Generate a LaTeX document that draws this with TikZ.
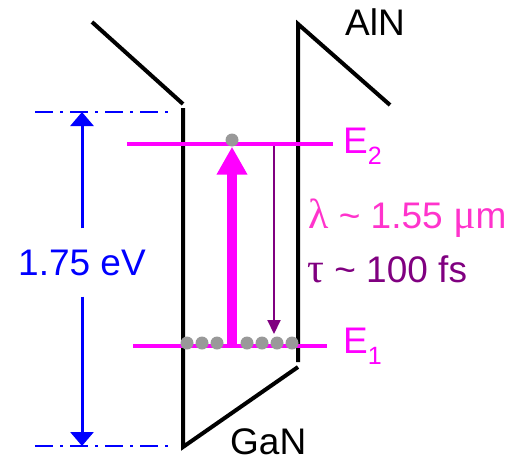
\documentclass[tikz,border=0pt]{standalone}
\usepackage{fontspec}
\setmainfont{Liberation Sans}
\newfontfamily\greekfont{Liberation Serif}
\usetikzlibrary{arrows.meta,positioning}
\definecolor{levelpink}{HTML}{FF00FF}
\definecolor{wavepink}{HTML}{FF33CC}
\definecolor{lifepurple}{HTML}{800080}
\definecolor{dotgray}{HTML}{999999}
\newcommand{\levelsub}[1]{\raisebox{-0.3em}{\fontsize{25}{25}\selectfont #1}}
\newcommand{\gk}[1]{{\greekfont\fontsize{42}{44}\selectfont #1}}

\begin{document}
\begin{tikzpicture}[x=1pt,y=-1pt,>=Stealth,
  band/.style={line width=4pt,black},
  level/.style={line width=4pt,levelpink},
  electron/.style={circle,fill=dotgray,inner sep=0pt,minimum size=13pt},
  dimline/.style={blue,line width=1.5pt,dash pattern=on 18pt off 7pt on 3pt off 7pt},
  lbl/.style={font=\fontsize{37}{44}\selectfont,inner sep=0pt,anchor=base west}]
\useasboundingbox (0,0) rectangle (525,461);
% band edges
\draw[band] (92,22) -- (183,104);
\draw[band] (183,108) -- (183,447) -- (298,367);
\draw[band] (298,362) -- (298,24) -- (390,105);
% subbands
\coordinate (e2l) at (127,144); \coordinate (e2r) at (333,144);
\coordinate (e1l) at (133,346); \coordinate (e1r) at (327,346);
\draw[level] (e2l) -- (e2r);
\draw[level] (e1l) -- (e1r);
\foreach \x [count=\i] in {187,202,217,247,262,277,292}
  \node[electron] (el\i) at (\x,343) {};
\node[electron] (eup) at (232,140) {};
% transitions
\coordinate (pumpfoot) at (232,346);
\draw[-{Triangle[width=29pt,length=28pt]},line width=10pt,levelpink] (pumpfoot) -- (eup.south);
\coordinate (relaxtop) at (274,146); \coordinate (relaxfoot) at (274,334);
\draw[-{Triangle[width=13pt,length=14pt]},line width=2pt,lifepurple] (relaxtop) -- (relaxfoot);
% gap energy
\coordinate (gaptopl) at (35,112); \coordinate (gaptopr) at (172,112);
\coordinate (gapbotl) at (35,446); \coordinate (gapbotr) at (172,446);
\draw[dimline] (gaptopl) -- (gaptopr);
\draw[dimline] (gapbotl) -- (gapbotr);
\node[font=\fontsize{37}{44}\selectfont,text=blue,inner xsep=0pt,inner ysep=21pt,anchor=base] (gap) at (82,275) {1.75 eV};
\draw[-{Triangle[width=23pt,length=14pt]},line width=3pt,blue] (gap.north) -- (82,112);
\draw[-{Triangle[width=23pt,length=14pt]},line width=3pt,blue] (gap.south) -- (82,446);
% labels
\node[lbl] (aln) at (345,35) {AlN};
\node[lbl] (gan) at (230,454) {GaN};
\node[lbl,levelpink] (e2lab) at (343,153) {E\levelsub{2}};
\node[lbl,levelpink] (e1lab) at (343,353) {E\levelsub{1}};
\node[lbl,wavepink] (lam) at (308,228) {\gk{λ} \textasciitilde{} 1.55 \gk{μ}m};
\node[lbl,lifepurple] (tau) at (307,282) {\gk{τ} \textasciitilde{} 100 fs};
\end{tikzpicture}
\end{document}
